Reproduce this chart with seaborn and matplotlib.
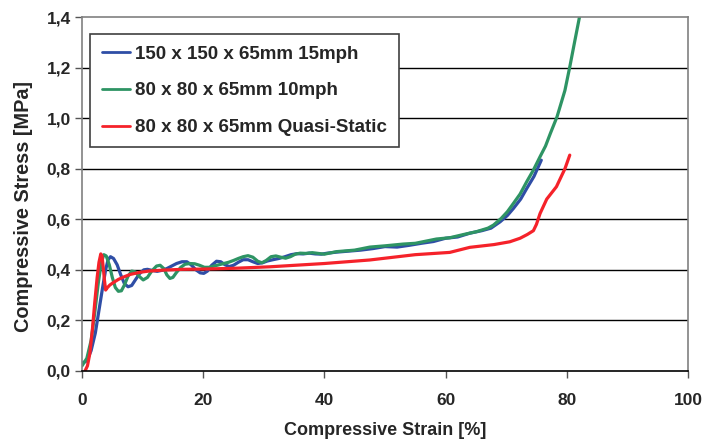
import numpy as np
import pandas as pd
import matplotlib
matplotlib.use("Agg")
import matplotlib.pyplot as plt
import seaborn as sns

# 讀圖估計的數據 (strain %, stress MPa)
labels = ["150 x 150 x 65mm 15mph", "80 x 80 x 65mm 10mph", "80 x 80 x 65mm Quasi-Static"]
colors = ["#2F4EA6", "#2E9464", "#F5222A"]

blue_x = [0.0, 0.8, 1.5, 2.2, 2.8, 3.4, 3.9, 4.3, 4.7, 5.2, 5.8, 6.4, 7.0, 7.6, 8.2, 8.8, 9.5, 10.2, 10.8,
          11.5, 12.4, 13.2, 14.0, 14.8, 15.6, 16.5, 17.3, 18.0, 18.8, 19.5, 20.1, 20.7, 21.4, 22.2, 22.9, 23.6,
          24.3, 25.0, 25.8, 26.6, 27.4, 28.2, 29.0, 29.8, 30.6, 31.5, 32.5, 33.5, 34.5, 35.5, 36.5, 37.5, 38.5,
          39.5, 40.5, 42.0, 44.0, 46.0, 48.0, 50.0, 52.0, 54.0, 56.0, 58.0, 60.0, 62.0, 64.0, 66.0, 67.5, 69.0,
          70.2, 71.2, 72.4, 73.4, 74.6, 75.8]
blue_y = [0.03, 0.04, 0.08, 0.15, 0.24, 0.33, 0.40, 0.44, 0.452, 0.445, 0.42, 0.38, 0.345, 0.333, 0.338, 0.36,
          0.385, 0.40, 0.402, 0.398, 0.394, 0.398, 0.405, 0.415, 0.425, 0.432, 0.432, 0.42, 0.40, 0.388, 0.386,
          0.395, 0.418, 0.434, 0.432, 0.42, 0.413, 0.418, 0.43, 0.44, 0.44, 0.432, 0.425, 0.428, 0.435, 0.44,
          0.445, 0.452, 0.46, 0.464, 0.463, 0.466, 0.463, 0.462, 0.466, 0.47, 0.474, 0.478, 0.484, 0.492, 0.49,
          0.497, 0.505, 0.512, 0.525, 0.53, 0.545, 0.555, 0.565, 0.59, 0.615, 0.643, 0.68, 0.722, 0.77, 0.834]

green_x = [0.0, 0.8, 1.5, 2.1, 2.7, 3.2, 3.6, 4.0, 4.5, 5.0, 5.5, 6.0, 6.5, 7.0, 7.6, 8.2, 8.8, 9.4, 10.1,
           10.8, 11.5, 12.3, 12.9, 13.5, 14.0, 14.5, 15.0, 15.6, 16.3, 17.0, 17.8, 18.6, 19.4, 20.2, 21.0, 21.8,
           22.6, 23.4, 24.2, 25.0, 25.8, 26.6, 27.4, 28.2, 29.0, 29.7, 30.4, 31.2, 32.0, 32.8, 33.6, 34.4, 35.2,
           36.0, 37.0, 38.0, 40.0, 42.0, 45.0, 47.5, 50.0, 53.0, 55.0, 58.5, 60.7, 63.0, 65.1, 67.0, 67.9, 69.2,
           70.2, 71.2, 72.3, 73.4, 74.5, 75.6, 76.5, 77.3, 78.4, 79.7, 80.5, 81.3, 82.1, 82.8]
green_y = [0.02, 0.05, 0.12, 0.23, 0.35, 0.43, 0.46, 0.455, 0.42, 0.37, 0.33, 0.315, 0.317, 0.34, 0.375,
           0.395, 0.392, 0.375, 0.36, 0.37, 0.395, 0.415, 0.418, 0.405, 0.38, 0.366, 0.37, 0.39, 0.41, 0.422,
           0.425, 0.424, 0.418, 0.41, 0.41, 0.415, 0.42, 0.425, 0.43, 0.437, 0.445, 0.452, 0.456, 0.45, 0.434,
           0.428, 0.437, 0.452, 0.455, 0.45, 0.446, 0.452, 0.462, 0.466, 0.465, 0.468, 0.462, 0.472, 0.478,
           0.49, 0.495, 0.502, 0.505, 0.522, 0.527, 0.54, 0.551, 0.565, 0.577, 0.604, 0.63, 0.663, 0.70, 0.749,
           0.795, 0.848, 0.89, 0.94, 1.006, 1.11, 1.203, 1.302, 1.40, 1.50]

red_x = [0.5, 0.9, 1.3, 1.7, 2.1, 2.5, 2.8, 3.1, 3.3, 3.5, 3.7, 3.9, 4.2, 4.6, 5.2, 6.0, 7.0, 8.0, 9.5, 11.0,
         13.5, 16.6, 20.0, 25.0, 31.0, 40.0, 47.5, 55.0, 60.7, 64.0, 68.0, 70.6, 72.3, 73.5, 74.5, 75.0, 75.6,
         76.7, 78.3, 79.7, 80.5]
red_y = [0.0, 0.02, 0.07, 0.16, 0.27, 0.37, 0.43, 0.463, 0.455, 0.41, 0.36, 0.32, 0.33, 0.34, 0.35, 0.362,
         0.373, 0.382, 0.39, 0.395, 0.399, 0.402, 0.403, 0.406, 0.412, 0.425, 0.439, 0.46, 0.469, 0.489, 0.50,
         0.511, 0.525, 0.54, 0.555, 0.58, 0.623, 0.68, 0.729, 0.80, 0.854]

x_ticks = [0, 20, 40, 60, 80, 100]
y_ticks = [0.0, 0.2, 0.4, 0.6, 0.8, 1.0, 1.2, 1.4]
y_tick_labels = ["0,0", "0,2", "0,4", "0,6", "0,8", "1,0", "1,2", "1,4"]

df = pd.concat([
    pd.DataFrame({"strain": blue_x, "stress": blue_y, "test": labels[0]}),
    pd.DataFrame({"strain": green_x, "stress": green_y, "test": labels[1]}),
    pd.DataFrame({"strain": red_x, "stress": red_y, "test": labels[2]}),
], ignore_index=True)

sns.set_theme(style="white")
plt.rcParams["font.family"] = ["Liberation Sans", "DejaVu Sans"]
plt.rcParams["font.weight"] = "bold"

fig = plt.figure(figsize=(7.07, 4.41), dpi=100)
ax = fig.add_axes([0.116, 0.159, 0.857, 0.802])

# 水平網格線 (黑色)
for yv in y_ticks[1:-1]:
    ax.axhline(yv, color="black", lw=1.0, zorder=0)

sns.lineplot(data=df, x="strain", y="stress", hue="test", hue_order=labels,
             palette=dict(zip(labels, colors)), sort=False, estimator=None,
             lw=2.3, ax=ax, legend=False)

ax.set_xlim(0, 100)
ax.set_ylim(0, 1.4)
ax.set_xticks(x_ticks)
ax.set_xticklabels([str(v) for v in x_ticks], fontsize=12.5, fontweight="bold")
ax.set_yticks(y_ticks)
ax.set_yticklabels(y_tick_labels, fontsize=12.5, fontweight="bold")
ax.tick_params(axis="both", direction="out", length=5, width=1, color="#555555",
               bottom=True, left=True)
ax.tick_params(axis="x", pad=11)
ax.tick_params(axis="y", pad=3)

ax.set_xlabel("Compressive Strain [%]", fontsize=13, fontweight="bold", labelpad=10)
ax.set_ylabel("Compressive Stress [MPa]", fontsize=14.3, fontweight="bold")
ax.yaxis.set_label_coords(-0.081, 0.466)

for side in ["left", "right", "top"]:
    ax.spines[side].set_color("#808080")
    ax.spines[side].set_linewidth(1.2)
ax.spines["bottom"].set_color("black")
ax.spines["bottom"].set_linewidth(1.2)

handles = [plt.Line2D([], [], color=c, lw=2) for c in colors]
leg = ax.legend(handles, labels, loc="upper left", bbox_to_anchor=(0.014, 0.952),
                borderaxespad=0, fancybox=False, framealpha=1, edgecolor="#404040",
                prop={"size": 13.5, "weight": "bold"}, handlelength=1.5, handletextpad=0.3,
                labelspacing=1.05, borderpad=0.6)
leg.get_frame().set_linewidth(1.2)

fig.savefig("out.png", dpi=100)
